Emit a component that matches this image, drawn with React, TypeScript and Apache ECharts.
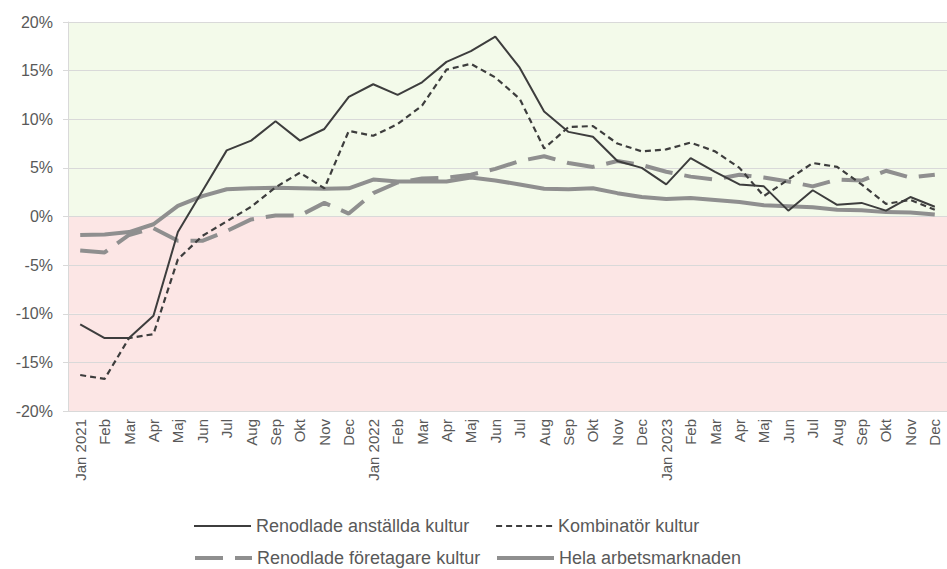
import React, { useEffect, useRef } from "react";
import * as echarts from "echarts";

const months: string[] = [
  "Jan 2021", "Feb", "Mar", "Apr", "Maj", "Jun", "Jul", "Aug", "Sep", "Okt", "Nov", "Dec",
  "Jan 2022", "Feb", "Mar", "Apr", "Maj", "Jun", "Jul", "Aug", "Sep", "Okt", "Nov", "Dec",
  "Jan 2023", "Feb", "Mar", "Apr", "Maj", "Jun", "Jul", "Aug", "Sep", "Okt", "Nov", "Dec",
];

const anstallda: number[] = [
  -11.1, -12.5, -12.5, -10.2, -1.6, 2.6, 6.8, 7.8, 9.8, 7.8, 9.0, 12.3,
  13.6, 12.5, 13.8, 15.9, 17.0, 18.5, 15.3, 10.8, 8.7, 8.2, 5.7, 5.0,
  3.3, 6.0, 4.6, 3.3, 3.1, 0.6, 2.7, 1.2, 1.4, 0.6, 2.0, 1.0,
];

const kombinator: number[] = [
  -16.3, -16.7, -12.5, -12.1, -4.4, -2.0, -0.5, 1.0, 3.0, 4.5, 2.9, 8.8,
  8.3, 9.5, 11.4, 15.1, 15.7, 14.3, 12.1, 7.0, 9.2, 9.3, 7.5, 6.7,
  6.9, 7.6, 6.7, 5.0, 2.1, 3.8, 5.5, 5.1, 3.3, 1.3, 1.7, 0.7,
];

const foretagare: number[] = [
  -3.5, -3.7, -1.9, -1.2, -2.5, -2.5, -1.5, -0.3, 0.1, 0.1, 1.4, 0.3,
  2.4, 3.5, 3.9, 4.0, 4.3, 4.9, 5.7, 6.2, 5.5, 5.1, 5.7, 5.3,
  4.6, 4.1, 3.8, 4.3, 4.0, 3.6, 3.1, 3.8, 3.7, 4.7, 4.0, 4.3,
];

const hela: number[] = [
  -1.9, -1.85, -1.6, -0.8, 1.1, 2.1, 2.8, 2.9, 2.95, 2.9, 2.85, 2.9,
  3.8, 3.6, 3.6, 3.6, 4.0, 3.7, 3.3, 2.85, 2.8, 2.9, 2.4, 2.0,
  1.8, 1.9, 1.7, 1.5, 1.15, 1.05, 0.95, 0.7, 0.65, 0.45, 0.4, 0.2,
];

const seriesNames: string[] = [
  "Renodlade anställda kultur",
  "Kombinatör kultur",
  "Renodlade företagare kultur",
  "Hela arbetsmarknaden",
];

const yTicks = { min: -20, max: 20, interval: 5 };

export default function App() {
  const ref = useRef<HTMLDivElement>(null);

  useEffect(() => {
    if (!ref.current) return;
    const chart = echarts.init(ref.current, undefined, { renderer: "svg" });
    const font = "'Liberation Sans', Arial, sans-serif";
    const dark = "#3d3d3d";
    const gray = "#8f8f8f";
    const axisGray = "#d9d9d9";
    const textColor = "#595959";

    const legendCommon = {
      orient: "horizontal" as const,
      itemWidth: 57,
      itemHeight: 14,
      itemGap: 6,
      padding: 0,
      itemStyle: { opacity: 0 },
      textStyle: { color: textColor, fontSize: 18, fontFamily: font },
      selectedMode: false,
    };

    chart.setOption({
      animation: false,
      textStyle: { fontFamily: font },
      grid: { left: 68, top: 22, bottom: 158, right: -10, containLabel: false },
      legend: [
        { ...legendCommon, data: [seriesNames[0]], left: 193, top: 517, lineStyle: { width: 2 } },
        { ...legendCommon, data: [seriesNames[1]], left: 495, top: 517, lineStyle: { width: 2.2 } },
        { ...legendCommon, data: [seriesNames[2]], left: 193, top: 549, lineStyle: { width: 4 } },
        { ...legendCommon, data: [seriesNames[3]], left: 495, top: 549, lineStyle: { width: 4 } },
      ],
      xAxis: {
        type: "category",
        data: months,
        boundaryGap: true,
        axisLine: { show: true, lineStyle: { color: axisGray } },
        axisTick: { show: false },
        axisLabel: {
          rotate: 90,
          interval: 0,
          color: textColor,
          fontSize: 15,
          fontFamily: font,
          margin: 8,
        },
        splitLine: { show: false },
      },
      yAxis: {
        type: "value",
        min: yTicks.min,
        max: yTicks.max,
        interval: yTicks.interval,
        axisLine: { show: true, lineStyle: { color: axisGray } },
        axisTick: { show: true, length: 5, lineStyle: { color: axisGray } },
        axisLabel: {
          color: textColor,
          fontSize: 16,
          fontFamily: font,
          margin: 15,
          formatter: (v: number) => `${v}%`,
        },
        splitLine: { show: true, lineStyle: { color: axisGray, width: 1 } },
        splitArea: {
          show: true,
          areaStyle: {
            color: [
              "#fce6e5", "#fce6e5", "#fce6e5", "#fce6e5",
              "#f3faea", "#f3faea", "#f3faea", "#f3faea",
            ],
          },
        },
      },
      series: [
        {
          name: seriesNames[0],
          type: "line",
          data: anstallda,
          symbol: "none",
          lineStyle: { color: dark, width: 2 },
          itemStyle: { color: dark },
          z: 5,
        },
        {
          name: seriesNames[1],
          type: "line",
          data: kombinator,
          symbol: "none",
          lineStyle: { color: dark, width: 2.2, type: [6, 4] },
          itemStyle: { color: dark },
          z: 4,
        },
        {
          name: seriesNames[2],
          type: "line",
          data: foretagare,
          symbol: "none",
          lineStyle: { color: gray, width: 4, type: [28, 12] },
          itemStyle: { color: gray },
          z: 3,
        },
        {
          name: seriesNames[3],
          type: "line",
          data: hela,
          symbol: "none",
          lineStyle: { color: gray, width: 4 },
          itemStyle: { color: gray },
          z: 3,
        },
      ],
    });

    return () => chart.dispose();
  }, []);

  return (
    <div
      ref={ref}
      style={{ position: "absolute", left: 0, top: 0, width: 947, height: 569, background: "#ffffff" }}
    />
  );
}
